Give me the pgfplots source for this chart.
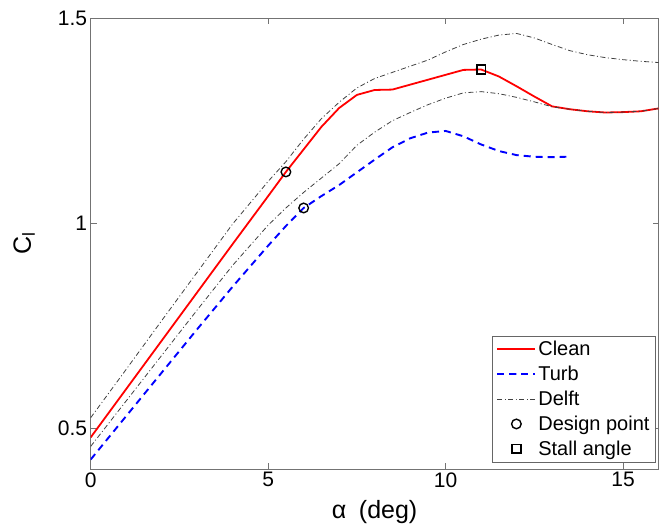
\documentclass[border=0pt]{standalone}
\usepackage{pgfplots}
\pgfplotsset{compat=1.18}
\usepackage{fontspec}
\setmainfont{Liberation Sans}
\usetikzlibrary{calc}
\begin{document}
\begin{tikzpicture}
\begin{axis}[
  scale only axis, width=568bp, height=450.7bp,
  xmin=0, xmax=16, ymin=0.4, ymax=1.5,
  xtick={0,5,10,15}, ytick={0.5,1,1.5},
  axis line style={black!55},
  every tick/.style={black!55, line width=0.6pt},
  major tick length=6bp,
  /pgf/number format/assume math mode=true,
  tick label style={font=\fontsize{21bp}{24bp}\selectfont},
  xlabel={α\hspace{0.5em}(deg)},
  ylabel={C$_\mathrm{l}$},
  label style={font=\fontsize{25bp}{28bp}\selectfont},
  xlabel style={at={(axis description cs:0.5,-0.062)}, anchor=north},
  ylabel style={at={(axis description cs:-0.092,0.5)}, anchor=south, rotate=0},
  legend style={at={(0.995,0.015)}, anchor=south east, draw=black!60, line width=0.6pt,
    font=\fontsize{20bp}{22bp}\selectfont, cells={anchor=west}, inner xsep=4pt, inner ysep=3pt,
    row sep=5pt},
  legend image code/.code={\draw[mark repeat=2,mark phase=2,#1] plot coordinates {(0cm,0cm) (0.67cm,0cm) (1.34cm,0cm)};},
]
\addplot[red, line width=1.8pt] coordinates {
(0,0.477)(1,0.595)(2,0.713)(3,0.831)(4,0.949)(5,1.066)(5.5,1.125)(6,1.18)(6.5,1.235)
(7,1.281)(7.5,1.313)(8,1.325)(8.5,1.326)(9,1.338)(9.5,1.350)(10,1.362)(10.5,1.374)
(11,1.375)(11.5,1.358)(12,1.334)(12.5,1.309)(13,1.285)(13.5,1.278)(14,1.273)(14.5,1.270)
(15,1.271)(15.5,1.273)(16,1.280)};
\addlegendentry{Clean}
\addplot[blue, line width=1.9pt, dash pattern=on 7bp off 5bp] coordinates {
(0,0.423)(1,0.529)(2,0.635)(3,0.741)(4,0.845)(5,0.945)(5.5,0.993)(6,1.037)(6.5,1.066)
(7,1.093)(7.5,1.124)(8,1.155)(8.5,1.185)(9,1.207)(9.5,1.221)(10,1.225)(10.5,1.212)
(11,1.192)(11.5,1.176)(12,1.166)(12.5,1.162)(13,1.161)(13.4,1.162)};
\addlegendentry{Turb}
\addplot[black!75, line width=0.8pt, dash pattern=on 5bp off 2.5bp on 1bp off 2.5bp] coordinates {
(0,0.525)(1,0.643)(2,0.762)(3,0.880)(4,0.998)(5,1.102)(5.5,1.150)(6,1.205)(6.5,1.255)
(7,1.295)(7.5,1.330)(8,1.353)(8.5,1.368)(9,1.383)(9.5,1.398)(10,1.418)(10.5,1.436)
(11,1.449)(11.5,1.459)(12,1.463)(12.5,1.452)(13,1.436)(13.5,1.421)(14,1.411)(14.5,1.404)
(15,1.399)(15.5,1.395)(16,1.392)};
\addlegendentry{Delft}
\addplot[black!75, line width=0.8pt, dash pattern=on 5bp off 2.5bp on 1bp off 2.5bp, forget plot] coordinates {
(0,0.455)(1,0.566)(2,0.677)(3,0.788)(4,0.897)(5,0.995)(5.5,1.037)(6,1.075)(6.5,1.110)
(7,1.145)(7.5,1.190)(8,1.222)(8.5,1.250)(9,1.270)(9.5,1.289)(10,1.305)(10.5,1.318)
(11,1.321)(11.5,1.316)(12,1.307)(12.5,1.296)(13,1.284)(13.5,1.278)(14,1.273)(14.5,1.270)
(15,1.271)(15.5,1.273)(16,1.280)};
\addplot[only marks, mark=o, mark size=4.8bp, black, line width=1.4pt] coordinates {
(5.5,1.125)(6,1.037)};
\addlegendentry{Design point}
\addplot[only marks, mark=square, mark size=4.3bp, black, line width=1.7pt] coordinates {
(11,1.375)};
\addlegendentry{Stall angle}
\end{axis}
\pgfresetboundingbox
\path[use as bounding box] ($(current axis.south west)+(-90.7bp,-57bp)$) rectangle ($(current axis.north east)+(0.4bp,18.3bp)$);
\end{tikzpicture}
\end{document}
